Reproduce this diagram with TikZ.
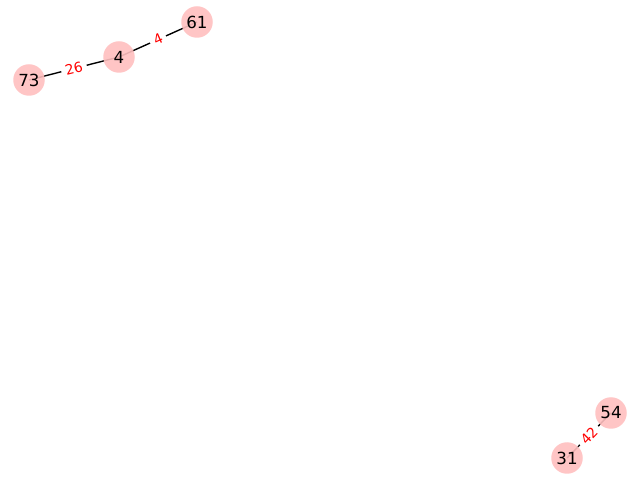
\documentclass[tikz,border=0pt]{standalone}
\usepackage{fontspec}
\setmainfont{DejaVu Sans}
\begin{document}
\begin{tikzpicture}[x=0.72pt,y=0.72pt,
  vtx/.style={circle,fill=pink,fill opacity=0.9,text opacity=1,minimum size=31.5*0.72pt,inner sep=0pt,font=\fontsize{12}{14}\selectfont},
  edg/.style={draw=black,line width=1pt},
  elab/.style={fill=white,text=red,inner xsep=3pt,inner ysep=1.5pt,font=\fontsize{10}{12}\selectfont}]
\useasboundingbox (0,0) rectangle (640,480);
\coordinate (p61) at (197,458);
\coordinate (p4) at (119,423);
\coordinate (p73) at (29,400);
\coordinate (p54) at (611,67);
\coordinate (p31) at (567,22);
\draw[edg] (p4) -- (p61) node[midway,sloped,elab] {4};
\draw[edg] (p73) -- (p4) node[midway,sloped,elab] {26};
\draw[edg] (p31) -- (p54) node[midway,sloped,elab] {42};
\node[vtx] (n61) at (p61) {61};
\node[vtx] (n4) at (p4) {4};
\node[vtx] (n73) at (p73) {73};
\node[vtx] (n54) at (p54) {54};
\node[vtx] (n31) at (p31) {31};
\end{tikzpicture}
\end{document}
